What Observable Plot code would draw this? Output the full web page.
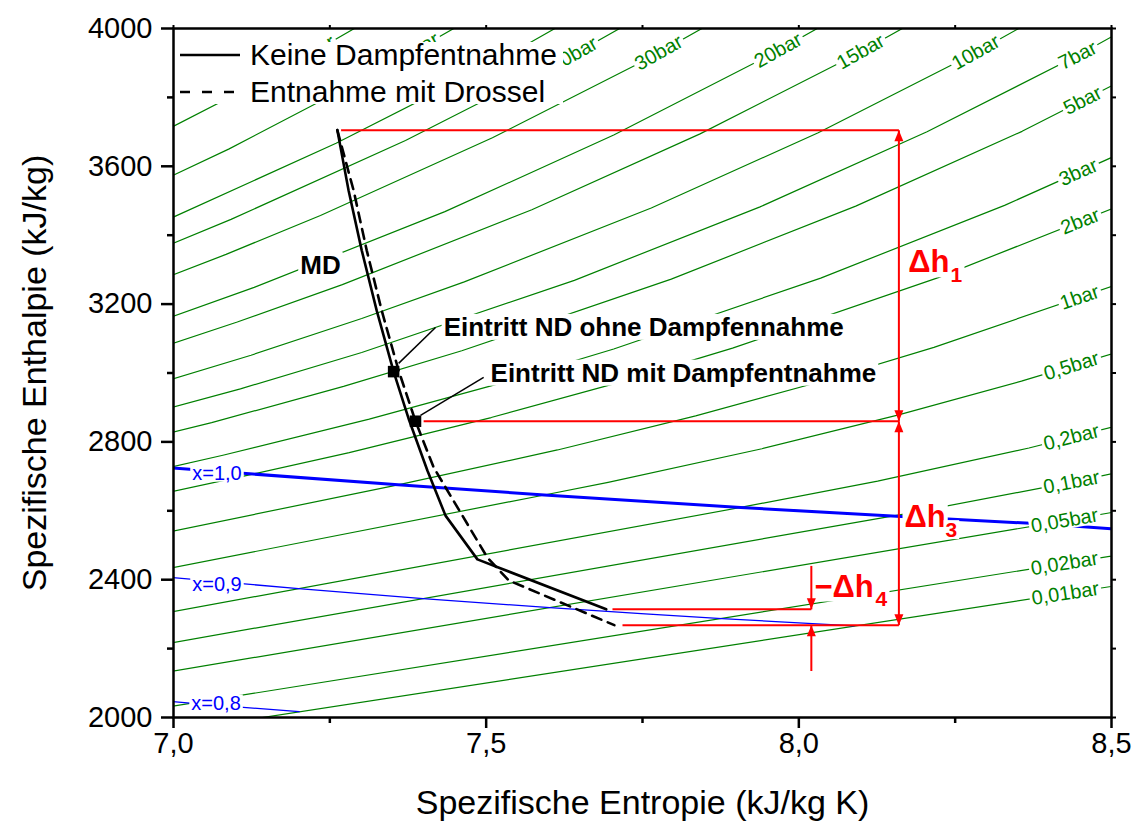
<!DOCTYPE html>
<html>
<head>
<meta charset="utf-8">
<script src="https://cdn.jsdelivr.net/npm/d3@7"></script>
<script src="https://cdn.jsdelivr.net/npm/@observablehq/plot@0.6"></script>
<style>
  body { margin: 0; background: #fff; }
  #chart { width: 1134px; height: 823px; }
</style>
</head>
<body>
<div id="chart"></div>
<script>
// ---- axes ----
const sDomain = [7.0, 8.5];
const hDomain = [2000, 4000];
const sTicksMajor = [7.0, 7.5, 8.0, 8.5];
const sTicksMinor = [7.25, 7.75, 8.25];
const hTicksMajor = [2000, 2400, 2800, 3200, 3600, 4000];
const hTicksMinor = [2200, 2600, 3000, 3400, 3800];

// ---- isobars [s (kJ/kg K), h (kJ/kg)] ----
const p100 = [[6.599,3375.1],[6.757,3502.0],[6.903,3625.8],[7.165,3870.0],[7.400,4116]];
const p70  = [[6.632,3288.3],[6.800,3411.4],[6.950,3531.6],[7.089,3650.6],[7.340,3888.3],[7.573,4129]];
const p50  = [[6.648,3196.7],[6.821,3317.5],[6.978,3434.7],[7.260,3666.9],[7.513,3900.3],[7.744,4138]];
const p40  = [[6.771,3214.5],[6.939,3331.2],[7.092,3446.0],[7.371,3674.9],[7.622,3906.3],[7.852,4142]];
const p30  = [[6.745,3116.1],[6.923,3231.7],[7.084,3344.4],[7.235,3457.2],[7.510,3682.8],[7.759,3912.2],[7.988,4146]];
const p20  = [[6.768,3024.2],[6.958,3137.7],[7.129,3248.4],[7.434,3468.3],[7.704,3690.7],[7.949,3918.2],[8.177,4150]];
const p15  = [[6.711,2923.9],[6.919,3038.2],[7.102,3148.0],[7.270,3256.5],[7.573,3473.7],[7.842,3694.1],[8.087,3920.2],[8.315,4152]];
const p10  = [[6.695,2828.3],[6.926,2943.1],[7.124,3051.6],[7.301,3158.2],[7.465,3264.5],[7.764,3479.1],[8.031,3697.4],[8.275,3922.3],[8.503,4154]];
const p7   = [[6.887,2845.3],[7.107,2954.0],[7.301,3059.4],[7.641,3269.0],[7.938,3482.3],[8.205,3700.1],[8.449,3924.3],[8.678,4155]];
const p5   = [[6.821,2748.7],[7.061,2855.8],[7.272,2961.0],[7.461,3064.6],[7.796,3272.4],[8.091,3484.5],[8.357,3701.5],[8.600,3925.4]];
const p3   = [[6.900,2688],[6.992,2725.3],[7.079,2761.2],[7.313,2865.9],[7.518,2967.9],[7.704,3069.6],[8.035,3275.5],[8.329,3486.6],[8.596,3703.3]];
const p2   = [[6.900,2617],[7.127,2706.7],[7.281,2769.1],[7.508,2870.7],[7.710,2971.2],[7.894,3072.1],[8.223,3277.0],[8.516,3487.7]];
const p1   = [[6.900,2504],[7.359,2675.5],[7.614,2776.6],[7.835,2875.5],[8.034,2974.5],[8.216,3074.5],[8.544,3278.5]];
const p05  = [[6.900,2400],[7.593,2645.9],[7.695,2682.4],[7.941,2780.2],[8.158,2877.7],[8.356,2976.2],[8.537,3075.8]];
const p02  = [[6.900,2274],[7.907,2609.7],[8.126,2686.2],[8.368,2782.3],[8.579,2879.0]];
const p01  = [[6.900,2186],[8.149,2584.6],[8.175,2592.6],[8.449,2687.5],[8.689,2783.0]];
const p005 = [[6.900,2104],[8.394,2561.5],[8.498,2594.4],[8.771,2687.5]];
const p002 = [[6.900,2004],[8.723,2533.4]];
const p001 = [[7.000,1960],[8.975,2513.6]];

const isobarNames = ["100bar","70bar","50bar","40bar","30bar","20bar","15bar","10bar","7bar","5bar",
                     "3bar","2bar","1bar","0,5bar","0,2bar","0,1bar","0,05bar","0,02bar","0,01bar"];
const isobarPoints = [p100,p70,p50,p40,p30,p20,p15,p10,p7,p5,p3,p2,p1,p05,p02,p01,p005,p002,p001];
// entropy at which each isobar carries its label
const isobarLabelS = [7.213,7.387,7.523,7.640,7.776,7.967,8.099,8.283,8.446,8.454,
                      8.447,8.450,8.449,8.436,8.436,8.436,8.425,8.425,8.426];

// ---- lines of constant vapour quality ----
const x10 = [[6.821,2748.7],[6.992,2725.3],[7.127,2706.7],[7.359,2675.5],[7.593,2645.9],[7.907,2609.7],[8.149,2584.6],[8.394,2561.5],[8.522,2544.8]];
const x09 = [[6.753,2449],[6.943,2415],[7.200,2374],[7.399,2345],[7.602,2319],[7.754,2301],[7.877,2287],[8.088,2266]];
const x08 = [[6.810,2077],[6.932,2057],[7.031,2041],[7.201,2017]];
const qualityNames = ["x=1,0","x=0,9","x=0,8"];
const qualityLabelS = [7.0300,7.0300,7.0285];
const qualityLabelH = [2709,2387,2039];

// ---- expansion lines ----
const expansionOhne = [[7.262,3705],[7.280,3530],[7.301,3356],[7.325,3181],[7.352,3004],[7.377,2862],[7.406,2717],[7.435,2586],[7.486,2459],[7.692,2314]];
const expansionMit  = [[7.262,3705],[7.275,3617],[7.288,3530],[7.309,3356],[7.333,3181],[7.360,3007],[7.387,2860],[7.416,2726],[7.502,2464],[7.536,2398],[7.705,2268]];
const entryPoints = [[7.352,3004],[7.387,2860]];
const entryNames = ["Eintritt ND ohne Dampfennahme","Eintritt ND mit Dampfentnahme"];
const entryTextS = [7.432,7.507];
const entryTextH = [3132,2999];
const leaderFrom = [[7.360,3028],[7.395,2877]];
const leaderTo   = [[7.419,3132],[7.496,2987]];
const mdLabel = {text: "MD", s: 7.235, h: 3312};

// ---- enthalpy differences ----
const hInlet = 3705, hEntryMit = 2860, hEndOhne = 2314, hEndMit = 2268;
const sDelta = 8.16, sDelta4 = 8.02;
const refLines = [
  {s1: 7.268, s2: sDelta,  h: hInlet},
  {s1: 7.400, s2: sDelta,  h: hEntryMit},
  {s1: 7.702, s2: sDelta4, h: hEndOhne},
  {s1: 7.718, s2: sDelta,  h: hEndMit}
];
const deltaSpans = [
  {s: sDelta,  h1: hInlet,    h2: hEntryMit},
  {s: sDelta,  h1: hEntryMit, h2: hEndMit},
  {s: sDelta4, h1: 2440,      h2: hEndOhne},
  {s: sDelta4, h1: 2135,      h2: hEndMit}
];
const headsUp   = [[sDelta, hInlet], [sDelta, hEntryMit], [sDelta4, hEndMit]];
const headsDown = [[sDelta, hEntryMit], [sDelta, hEndMit], [sDelta4, hEndOhne]];
const deltaMain = ["Δh", "Δh", "−Δh"];
const deltaSub  = ["1", "3", "4"];
const deltaS    = [8.175, 8.169, 8.025];
const deltaH    = [3321, 2581, 2380];
const deltaSubS = [8.2425, 8.2346, 8.1226];
const deltaSubH = [3283, 2543, 2342];

// ---- build tables ----
const W = 1134, H = 823;
const M = {left: 173, right: 23, top: 28, bottom: 106};
const kx = (W - M.left - M.right) / (sDomain[1] - sDomain[0]);
const ky = (H - M.top - M.bottom) / (hDomain[1] - hDomain[0]);

const toRows = (names, lists) => names.flatMap((n, i) => lists[i].map(([s, h]) => ({n, s, h})));
const isobarRows = toRows(isobarNames, isobarPoints);

function segmentAt(pts, s) {
  let i = pts.findIndex((p, k) => k < pts.length - 1 && s >= p[0] && s <= pts[k + 1][0]);
  if (i < 0) i = s < pts[0][0] ? 0 : pts.length - 2;
  return [pts[i], pts[i + 1]];
}
const isobarLabels = isobarNames.map((text, i) => {
  const s = isobarLabelS[i];
  const [[s0, h0], [s1, h1]] = segmentAt(isobarPoints[i], s);
  return {
    text, s,
    h: h0 + (h1 - h0) * (s - s0) / (s1 - s0),
    angle: -Math.atan2((h1 - h0) * ky, (s1 - s0) * kx) * 180 / Math.PI
  };
});
const qualityLabels = qualityNames.map((text, i) => ({text, s: qualityLabelS[i], h: qualityLabelH[i]}));
const deltaLabels = deltaMain.map((m, i) => ({m, sub: deltaSub[i], s: deltaS[i], h: deltaH[i], ss: deltaSubS[i], sh: deltaSubH[i]}));
const entryLabels = entryNames.map((t, i) => ({t, s: entryTextS[i], h: entryTextH[i]}));
const leaders = leaderFrom.map((a, i) => ({s1: a[0], h1: a[1], s2: leaderTo[i][0], h2: leaderTo[i][1]}));

// filled arrow heads with the tip at the anchor point
const headUp   = {draw(c) { c.moveTo(0, 0); c.lineTo(-4.5, 11); c.lineTo(4.5, 11); c.closePath(); }};
const headDown = {draw(c) { c.moveTo(0, 0); c.lineTo(-4.5, -11); c.lineTo(4.5, -11); c.closePath(); }};

const FONT = "'Liberation Sans', Arial, Helvetica, sans-serif";
const GREEN = "#008000", BLUE = "#0000ff", RED = "#ff0000";
const fmtS = d => d.toFixed(1).replace(".", ",");

const chart = Plot.plot({
  width: W, height: H,
  marginLeft: M.left, marginRight: M.right, marginTop: M.top, marginBottom: M.bottom,
  x: {domain: sDomain},
  y: {domain: hDomain},
  style: {fontFamily: FONT, color: "black", background: "white"},
  marks: [
    // isobars
    Plot.line(isobarRows, {x: "s", y: "h", z: "n", stroke: GREEN, strokeWidth: 1.2, clip: true}),
    // quality lines
    Plot.line(x10, {x: d => d[0], y: d => d[1], stroke: BLUE, strokeWidth: 3, clip: true}),
    Plot.line(x09, {x: d => d[0], y: d => d[1], stroke: BLUE, strokeWidth: 1.3, clip: true}),
    Plot.line(x08, {x: d => d[0], y: d => d[1], stroke: BLUE, strokeWidth: 1.3, clip: true}),
    // isobar labels
    Plot.text(isobarLabels, {x: "s", y: "h", text: "text", rotate: "angle", fill: GREEN,
      fontSize: 20, lineAnchor: "middle", clip: true}),
    Plot.text(qualityLabels, {x: "s", y: "h", text: "text", fill: BLUE, fontSize: 20,
      textAnchor: "start", lineAnchor: "middle"}),
    // annotations
    Plot.text(entryLabels, {x: "s", y: "h", text: "t", textAnchor: "start", lineAnchor: "middle",
      fontSize: 26, fontWeight: "bold", fill: "black"}),
    Plot.text([mdLabel], {x: "s", y: "h", text: "text", fontSize: 26, fontWeight: "bold",
      lineAnchor: "middle", fill: "black"}),
    Plot.text(deltaLabels, {x: "s", y: "h", text: "m", textAnchor: "start", lineAnchor: "middle",
      fontSize: 31, fontWeight: "bold", fill: RED}),
    Plot.text(deltaLabels, {x: "ss", y: "sh", text: "sub", textAnchor: "start", lineAnchor: "middle",
      fontSize: 21, fontWeight: "bold", fill: RED}),
    // enthalpy levels and differences
    Plot.link(refLines, {x1: "s1", x2: "s2", y1: "h", y2: "h", stroke: RED, strokeWidth: 2}),
    Plot.link(deltaSpans, {x1: "s", x2: "s", y1: "h1", y2: "h2", stroke: RED, strokeWidth: 2}),
    Plot.dot(headsUp, {x: d => d[0], y: d => d[1], symbol: headUp, fill: RED, stroke: null}),
    Plot.dot(headsDown, {x: d => d[0], y: d => d[1], symbol: headDown, fill: RED, stroke: null}),
    // leaders to the entry points
    Plot.link(leaders, {x1: "s1", y1: "h1", x2: "s2", y2: "h2", stroke: "black", strokeWidth: 1.5}),
    // expansion lines
    Plot.line(expansionOhne, {x: d => d[0], y: d => d[1], stroke: "black", strokeWidth: 2.6, curve: "linear"}),
    Plot.line(expansionMit, {x: d => d[0], y: d => d[1], stroke: "black", strokeWidth: 2.6,
      strokeDasharray: "10,7", curve: "linear"}),
    Plot.dot(entryPoints, {x: d => d[0], y: d => d[1], symbol: "square", r: 6.5, fill: "black", stroke: null}),
    // axes
    Plot.axisX(sTicksMajor, {tickSize: 11, tickPadding: 4, tickFormat: fmtS, fontSize: 29,
      strokeWidth: 2.5, label: null}),
    Plot.axisX(sTicksMinor, {tickSize: 6, tickFormat: () => "", strokeWidth: 2.5, label: null}),
    Plot.axisX([...sTicksMajor, ...sTicksMinor], {anchor: "top", tickSize: 4, tickFormat: () => "", strokeWidth: 2, label: null}),
    Plot.axisY(hTicksMajor, {tickSize: 12, tickPadding: 9, tickFormat: d => String(d), fontSize: 29,
      strokeWidth: 2.5, label: null}),
    Plot.axisY(hTicksMinor, {tickSize: 6, tickFormat: () => "", strokeWidth: 2.5, label: null}),
    Plot.axisY([...hTicksMajor, ...hTicksMinor], {anchor: "right", tickSize: 4, tickFormat: () => "", strokeWidth: 2, label: null}),
    Plot.text(["Spezifische Entropie (kJ/kg K)"], {frameAnchor: "bottom", dy: 86, fontSize: 34,
      textAnchor: "middle", lineAnchor: "middle", fill: "black"}),
    Plot.text(["Spezifische Enthalpie (kJ/kg)"], {frameAnchor: "left", dx: -138, rotate: -90, fontSize: 34,
      textAnchor: "middle", lineAnchor: "middle", fill: "black"}),
    Plot.frame({stroke: "black", strokeWidth: 2.5})
  ]
});

document.getElementById("chart").appendChild(chart);

// opaque boxes behind the in-plot labels, so lines stop at the text
const boxedTexts = new Set([...isobarNames, ...qualityNames, ...entryNames, mdLabel.text, ...deltaMain, ...deltaSub]);
const svg = d3.select(chart);
svg.selectAll("text").each(function () {
  if (!boxedTexts.has(this.textContent)) return;
  const b = this.getBBox(), pad = 2;
  const r = document.createElementNS("http://www.w3.org/2000/svg", "rect");
  r.setAttribute("x", b.x - pad);
  r.setAttribute("y", b.y + 2);
  r.setAttribute("width", b.width + 2 * pad);
  r.setAttribute("height", Math.max(0, b.height - 4));
  r.setAttribute("fill", "white");
  const t = this.getAttribute("transform");
  if (t) r.setAttribute("transform", t);
  this.parentNode.insertBefore(r, this);
});

// legend in the upper left corner of the frame
const lg = svg.append("g").attr("font-family", FONT).attr("font-size", 30).attr("text-anchor", "start");
lg.append("rect").attr("x", 175).attr("y", 42).attr("width", 388).attr("height", 62).attr("fill", "white");
const entries = [
  {label: "Keine Dampfentnahme", dash: null, y: 55},
  {label: "Entnahme mit Drossel", dash: "10,12", y: 92}
];
entries.forEach(e => {
  lg.append("line").attr("x1", 180).attr("x2", 240).attr("y1", e.y).attr("y2", e.y)
    .attr("stroke", "black").attr("stroke-width", 2.5).attr("stroke-dasharray", e.dash);
  lg.append("text").attr("x", 250).attr("y", e.y + 10).attr("fill", "black")
    .attr("text-anchor", "start").text(e.label);
});
</script>
</body>
</html>
